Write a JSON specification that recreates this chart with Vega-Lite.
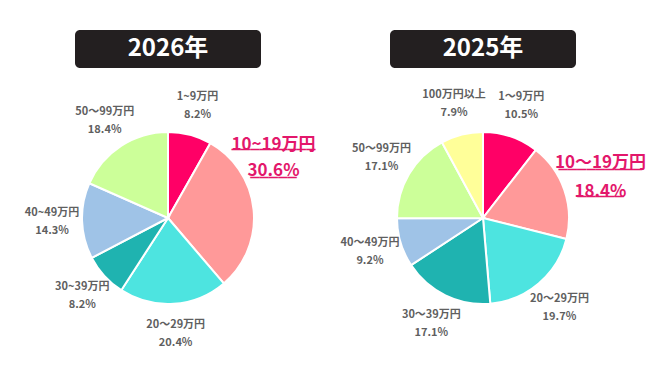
{
  "$schema": "https://vega.github.io/schema/vega-lite/v6.json",
  "padding": {"left": 18, "top": 30, "right": 0, "bottom": 0},
  "background": "white",
  "spacing": 15,
  "config": {"view": {"stroke": null}, "font": "Noto Sans CJK JP"},
  "datasets": {
    "shares": [
      {"year": 2026, "category": "1~9万円", "share": 8.2, "order": 1},
      {"year": 2026, "category": "10~19万円", "share": 30.6, "order": 2},
      {"year": 2026, "category": "20〜29万円", "share": 20.4, "order": 3},
      {"year": 2026, "category": "30~39万円", "share": 8.2, "order": 4},
      {"year": 2026, "category": "40~49万円", "share": 14.3, "order": 5},
      {"year": 2026, "category": "50〜99万円", "share": 18.4, "order": 6},
      {"year": 2025, "category": "1〜9万円", "share": 10.5, "order": 1},
      {"year": 2025, "category": "10〜19万円", "share": 18.4, "order": 2},
      {"year": 2025, "category": "20〜29万円", "share": 19.7, "order": 3},
      {"year": 2025, "category": "30〜39万円", "share": 17.1, "order": 4},
      {"year": 2025, "category": "40〜49万円", "share": 9.2, "order": 5},
      {"year": 2025, "category": "50〜99万円", "share": 17.1, "order": 6},
      {"year": 2025, "category": "100万円以上", "share": 7.9, "order": 7}
    ]
  },
  "hconcat": [
    {
      "vconcat": [
        {
          "width": 186, "height": 38,
          "view": {"fill": "#231f20", "cornerRadius": 5, "stroke": null},
          "data": {"values": [{"label": "2026年"}]},
          "mark": {"type": "text", "fontSize": 24, "fontWeight": "bold", "fill": "white", "font": "Noto Sans CJK JP", "baseline": "middle"},
          "encoding": {"text": {"field": "label", "type": "nominal"}}
        },
        {
          "width": 300, "height": 300,
          "data": {"name": "shares"},
          "transform": [
            {"filter": "datum.year == 2026"},
            {"calculate": "format(datum.share, '.1f') + '%'", "as": "pct"}
          ],
          "encoding": {
            "theta": {"field": "share", "type": "quantitative", "stack": true},
            "order": {"field": "order", "type": "quantitative"}
          },
          "layer": [
            {
              "mark": {"type": "arc", "radius": 86, "stroke": "white", "strokeWidth": 2},
              "encoding": {
                "color": {"field": "category", "type": "nominal", "legend": null,
                  "scale": {"domain": ["1~9万円", "10~19万円", "20〜29万円", "30~39万円", "40~49万円", "50〜99万円", "1〜9万円", "10〜19万円", "30〜39万円", "40〜49万円", "100万円以上"],
                            "range": ["#ff0066", "#ff9999", "#4de4e0", "#1fb3b0", "#9fc3e7", "#ccff99", "#ff0066", "#ff9999", "#1fb3b0", "#9fc3e7", "#ffff99"]}}
              }
            },
            {
              "mark": {"type": "text", "radius": 116, "dy": -9, "fontSize": 11, "fontWeight": "bold", "fill": "#5f5f5f", "font": "Noto Sans CJK JP"},
              "encoding": {"text": {"condition": {"test": "datum.order == 2", "value": ""}, "field": "category", "type": "nominal"}}
            },
            {
              "mark": {"type": "text", "radius": 116, "dy": 9, "fontSize": 11, "fontWeight": "bold", "fill": "#5f5f5f", "font": "Noto Sans CJK JP"},
              "encoding": {"text": {"condition": {"test": "datum.order == 2", "value": ""}, "field": "pct", "type": "nominal"}}
            },
            {
              "mark": {"type": "text", "radius": 106, "dy": -63, "fontSize": 17, "fontWeight": "bold", "fill": "#e3176b", "font": "Noto Sans CJK JP"},
              "encoding": {"text": {"condition": {"test": "datum.order != 2", "value": ""}, "field": "category", "type": "nominal"}}
            },
            {
              "mark": {"type": "text", "radius": 106, "dy": -37, "fontSize": 17, "fontWeight": "bold", "fill": "#e3176b", "font": "Noto Sans CJK JP"},
              "encoding": {"text": {"condition": {"test": "datum.order != 2", "value": ""}, "field": "pct", "type": "nominal"}}
            },
            {
              "mark": {"type": "text", "radius": 106, "dy": -60.5, "baseline": "alphabetic", "fontSize": 15.5, "fontWeight": "bold", "fill": "#e3176b", "font": "DejaVu Sans Mono"},
              "encoding": {"text": {"condition": {"test": "datum.order != 2", "value": ""}, "value": "_________"}}
            },
            {
              "mark": {"type": "text", "radius": 106, "dy": -32.5, "baseline": "alphabetic", "fontSize": 15.5, "fontWeight": "bold", "fill": "#e3176b", "font": "DejaVu Sans Mono"},
              "encoding": {"text": {"condition": {"test": "datum.order != 2", "value": ""}, "value": "_____"}}
            }
          ]
        }
      ],
      "center": true,
      "spacing": 0,
      "bounds": "flush"
    },
    {
      "vconcat": [
        {
          "width": 186, "height": 38,
          "view": {"fill": "#231f20", "cornerRadius": 5, "stroke": null},
          "data": {"values": [{"label": "2025年"}]},
          "mark": {"type": "text", "fontSize": 24, "fontWeight": "bold", "fill": "white", "font": "Noto Sans CJK JP", "baseline": "middle"},
          "encoding": {"text": {"field": "label", "type": "nominal"}}
        },
        {
          "width": 300, "height": 300,
          "data": {"name": "shares"},
          "transform": [
            {"filter": "datum.year == 2025"},
            {"calculate": "format(datum.share, '.1f') + '%'", "as": "pct"}
          ],
          "encoding": {
            "theta": {"field": "share", "type": "quantitative", "stack": true},
            "order": {"field": "order", "type": "quantitative"}
          },
          "layer": [
            {
              "mark": {"type": "arc", "radius": 86, "stroke": "white", "strokeWidth": 2},
              "encoding": {
                "color": {"field": "category", "type": "nominal", "legend": null}
              }
            },
            {
              "mark": {"type": "text", "radius": 118, "dy": -9, "fontSize": 11, "fontWeight": "bold", "fill": "#5f5f5f", "font": "Noto Sans CJK JP"},
              "encoding": {"text": {"condition": {"test": "datum.order == 2", "value": ""}, "field": "category", "type": "nominal"}}
            },
            {
              "mark": {"type": "text", "radius": 118, "dy": 9, "fontSize": 11, "fontWeight": "bold", "fill": "#5f5f5f", "font": "Noto Sans CJK JP"},
              "encoding": {"text": {"condition": {"test": "datum.order == 2", "value": ""}, "field": "pct", "type": "nominal"}}
            },
            {
              "mark": {"type": "text", "radius": 120, "dx": 4, "dy": -16, "fontSize": 17, "fontWeight": "bold", "fill": "#e3176b", "font": "Noto Sans CJK JP"},
              "encoding": {"text": {"condition": {"test": "datum.order != 2", "value": ""}, "field": "category", "type": "nominal"}}
            },
            {
              "mark": {"type": "text", "radius": 120, "dx": 4, "dy": 13, "fontSize": 17, "fontWeight": "bold", "fill": "#e3176b", "font": "Noto Sans CJK JP"},
              "encoding": {"text": {"condition": {"test": "datum.order != 2", "value": ""}, "field": "pct", "type": "nominal"}}
            },
            {
              "mark": {"type": "text", "radius": 120, "dx": 4, "dy": -12, "baseline": "alphabetic", "fontSize": 15.5, "fontWeight": "bold", "fill": "#e3176b", "font": "DejaVu Sans Mono"},
              "encoding": {"text": {"condition": {"test": "datum.order != 2", "value": ""}, "value": "_________"}}
            },
            {
              "mark": {"type": "text", "radius": 120, "dx": 4, "dy": 15, "baseline": "alphabetic", "fontSize": 15.5, "fontWeight": "bold", "fill": "#e3176b", "font": "DejaVu Sans Mono"},
              "encoding": {"text": {"condition": {"test": "datum.order != 2", "value": ""}, "value": "_____"}}
            }
          ]
        }
      ],
      "center": true,
      "spacing": 0,
      "bounds": "flush"
    }
  ]
}
